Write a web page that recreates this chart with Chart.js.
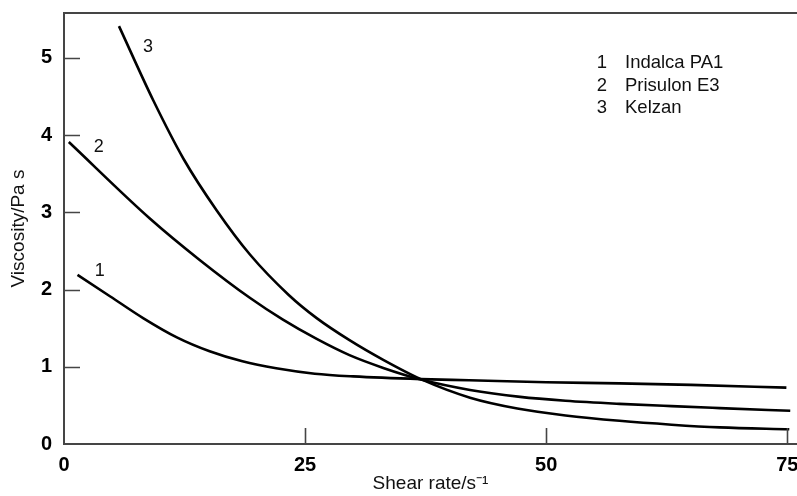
<!DOCTYPE html>
<html>
<head>
<meta charset="utf-8">
<script src="https://cdn.jsdelivr.net/npm/chart.js@4"></script>
<style>
    html, body { margin: 0; padding: 0; background: #fff; }
    #wrap { width: 797px; height: 496px; }
</style>
</head>
<body>
<div id="wrap"><canvas id="viscosityChart" width="797" height="496"></canvas></div>
<script>
// series: shear rate (1/s) vs viscosity (Pa s)
const seriesNames = ['Indalca PA1', 'Prisulon E3', 'Kelzan'];
const seriesTags = ['1', '2', '3'];

const indalcaX = [1.4, 4.8, 8.2, 11.7, 15.1, 18.5, 22, 26, 30, 37, 42, 50, 57.6, 65, 74.9];
const indalcaY = [2.19, 1.91, 1.63, 1.38, 1.20, 1.07, 0.98, 0.91, 0.875, 0.84, 0.825, 0.80, 0.785, 0.765, 0.73];

const prisulonX = [0.5, 8.9, 14.1, 19.3, 22.7, 26.2, 29.6, 33.1, 37, 42.1, 47.3, 52, 57.6, 63, 68, 75.3];
const prisulonY = [3.91, 2.92, 2.38, 1.89, 1.61, 1.36, 1.15, 0.985, 0.835, 0.70, 0.61, 0.56, 0.52, 0.49, 0.465, 0.43];

const kelzanX = [5.7, 9.25, 12.4, 15.8, 19.3, 23.3, 26.2, 29.6, 33.1, 37, 42.1, 47, 52, 57.6, 63, 68, 75.2];
const kelzanY = [5.41, 4.45, 3.69, 3.03, 2.45, 1.93, 1.63, 1.345, 1.09, 0.84, 0.60, 0.46, 0.37, 0.30, 0.25, 0.215, 0.19];

const xTicks = [0, 25, 50, 75];
const yTicks = [0, 1, 2, 3, 4, 5];

// where the curve numbers sit, in data units
const tagX = [3.7, 3.6, 8.7];
const tagY = [2.24, 3.84, 5.14];

const axisGrey = '#454545';
const ink = '#000';
const fontFamily = '"Liberation Sans", Arial, Helvetica, sans-serif';

function toPoints(xs, ys) {
    return xs.map((x, i) => ({ x, y: ys[i] }));
}

function curve(label, xs, ys) {
    return {
        label,
        data: toPoints(xs, ys),
        borderColor: ink,
        borderWidth: 2.6,
        pointRadius: 0,
        fill: false,
        cubicInterpolationMode: 'monotone',
    };
}

const decor = {
    id: 'decor',
    afterDraw(chart) {
        const { ctx, chartArea } = chart;
        const xs = chart.scales.x;
        const ys = chart.scales.y;
        ctx.save();

        // frame top edge
        ctx.strokeStyle = axisGrey;
        ctx.lineWidth = 2;
        ctx.beginPath();
        ctx.moveTo(chartArea.left, chartArea.top);
        ctx.lineTo(chart.width, chartArea.top);
        ctx.stroke();

        // inward tick marks
        ctx.lineWidth = 1.6;
        ctx.beginPath();
        yTicks.filter(v => v > 0).forEach(v => {
            const py = Math.round(ys.getPixelForValue(v)) + 0.5;
            ctx.moveTo(chartArea.left, py);
            ctx.lineTo(chartArea.left + 16, py);
        });
        xTicks.filter(v => v > 0).forEach(v => {
            const px = Math.round(xs.getPixelForValue(v)) + 0.5;
            ctx.moveTo(px, chartArea.bottom);
            ctx.lineTo(px, chartArea.bottom - 16);
        });
        ctx.stroke();

        // curve numbers
        ctx.fillStyle = '#111';
        ctx.font = '18px ' + fontFamily;
        ctx.textAlign = 'center';
        ctx.textBaseline = 'middle';
        seriesTags.forEach((t, i) => {
            ctx.fillText(t, xs.getPixelForValue(tagX[i]), ys.getPixelForValue(tagY[i]));
        });

        // key in the top right corner
        ctx.font = '18.5px ' + fontFamily;
        seriesNames.forEach((name, i) => {
            const y = chartArea.top + 50 + i * 22.5;
            ctx.textAlign = 'center';
            ctx.fillText(seriesTags[i], chartArea.left + 538, y);
            ctx.textAlign = 'left';
            ctx.fillText(name, chartArea.left + 561, y);
        });

        ctx.restore();
    },
};

new Chart(document.getElementById('viscosityChart'), {
    type: 'line',
    data: {
        datasets: [
            curve(seriesNames[0], indalcaX, indalcaY),
            curve(seriesNames[1], prisulonX, prisulonY),
            curve(seriesNames[2], kelzanX, kelzanY),
        ],
    },
    options: {
        responsive: false,
        animation: false,
        layout: { padding: { top: 13, right: 0, bottom: 0, left: 0 } },
        plugins: {
            legend: { display: false },
            tooltip: { enabled: false },
        },
        scales: {
            x: {
                type: 'linear',
                min: 0,
                max: 76,
                afterBuildTicks: (scale) => { scale.ticks = xTicks.map(v => ({ value: v })); },
                afterFit: (scale) => {
                    scale.height = 52;
                    scale.paddingLeft = 0;
                    scale.paddingRight = 0;
                },
                grid: { display: false, drawTicks: false },
                border: { display: true, color: axisGrey, width: 2 },
                ticks: {
                    color: ink,
                    padding: 9,
                    maxRotation: 0,
                    font: { family: fontFamily, size: 20, weight: 'bold' },
                },
                title: {
                    display: true,
                    text: 'Shear rate/s\u207B\u00B9',
                    color: '#111',
                    padding: { top: 0, bottom: 1 },
                    font: { family: fontFamily, size: 19 },
                },
            },
            y: {
                type: 'linear',
                min: 0,
                max: 5.58,
                afterBuildTicks: (scale) => { scale.ticks = yTicks.map(v => ({ value: v })); },
                afterFit: (scale) => {
                    scale.width = 64;
                    scale.paddingTop = 0;
                    scale.paddingBottom = 0;
                },
                grid: { display: false, drawTicks: false },
                border: { display: true, color: axisGrey, width: 2 },
                ticks: {
                    color: ink,
                    padding: 12,
                    font: { family: fontFamily, size: 20, weight: 'bold' },
                },
                title: {
                    display: true,
                    text: 'Viscosity/Pa s',
                    color: '#111',
                    padding: { top: 7, bottom: 0 },
                    font: { family: fontFamily, size: 19 },
                },
            },
        },
    },
    plugins: [decor],
});
</script>
</body>
</html>
